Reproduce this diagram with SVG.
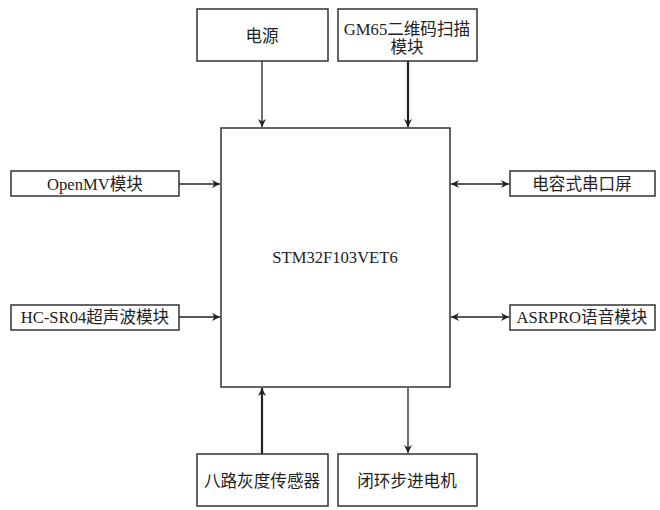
<svg xmlns="http://www.w3.org/2000/svg" width="660" height="510" viewBox="0 0 660 510">
<defs>
<marker id="ah" viewBox="0 0 10 10" refX="10" refY="5" markerWidth="9" markerHeight="8" markerUnits="userSpaceOnUse" orient="auto-start-reverse">
<path d="M0,0 L10,5 L0,10 L3,5 z" fill="#222"/>
</marker>
<style>
rect{fill:#fff;stroke:#333;stroke-width:1.5}
text{font-family:"Liberation Serif","Noto Sans CJK SC",serif;font-size:16.6px;fill:#222;text-anchor:middle;dominant-baseline:central}
.c{stroke:#222;stroke-width:1.3;fill:none}
.t{stroke-width:2.2}
</style>
</defs>
<rect width="660" height="510" style="fill:#fff;stroke:none"/>
<g id="connectors">
<line class="c" x1="262" y1="61" x2="262" y2="127" marker-end="url(#ah)"/>
<line class="c t" x1="408" y1="61" x2="408" y2="127" marker-end="url(#ah)"/>
<line class="c" x1="179" y1="184" x2="220" y2="184" marker-end="url(#ah)"/>
<line class="c" x1="179" y1="317" x2="220" y2="317" marker-end="url(#ah)"/>
<line class="c" x1="451" y1="184" x2="509" y2="184" marker-start="url(#ah)" marker-end="url(#ah)"/>
<line class="c" x1="451" y1="317" x2="509" y2="317" marker-start="url(#ah)" marker-end="url(#ah)"/>
<line class="c t" x1="262" y1="454" x2="262" y2="388" marker-end="url(#ah)"/>
<line class="c" x1="408" y1="388" x2="408" y2="453" marker-end="url(#ah)"/>
</g>
<g id="mcu"><rect x="221" y="128" width="229" height="259"/><text x="335" y="257">STM32F103VET6</text></g>
<g id="power"><rect x="197" y="9" width="131" height="52"/><text x="262" y="36">电源</text></g>
<g id="gm65"><rect x="338" y="9" width="139" height="52"/><text x="407" y="29">GM65二维码扫描</text><text x="407" y="47">模块</text></g>
<g id="openmv"><rect x="11" y="171" width="168" height="25"/><text x="95" y="184">OpenMV模块</text></g>
<g id="hcsr04"><rect x="11" y="305" width="168" height="25"/><text x="95" y="317">HC-SR04超声波模块</text></g>
<g id="screen"><rect x="510" y="171" width="145" height="25"/><text x="582" y="184">电容式串口屏</text></g>
<g id="asrpro"><rect x="510" y="305" width="145" height="25"/><text x="582" y="317">ASRPRO语音模块</text></g>
<g id="gray"><rect x="197" y="454" width="131" height="52"/><text x="262" y="481">八路灰度传感器</text></g>
<g id="motor"><rect x="338" y="454" width="139" height="52"/><text x="407" y="481">闭环步进电机</text></g>
</svg>
